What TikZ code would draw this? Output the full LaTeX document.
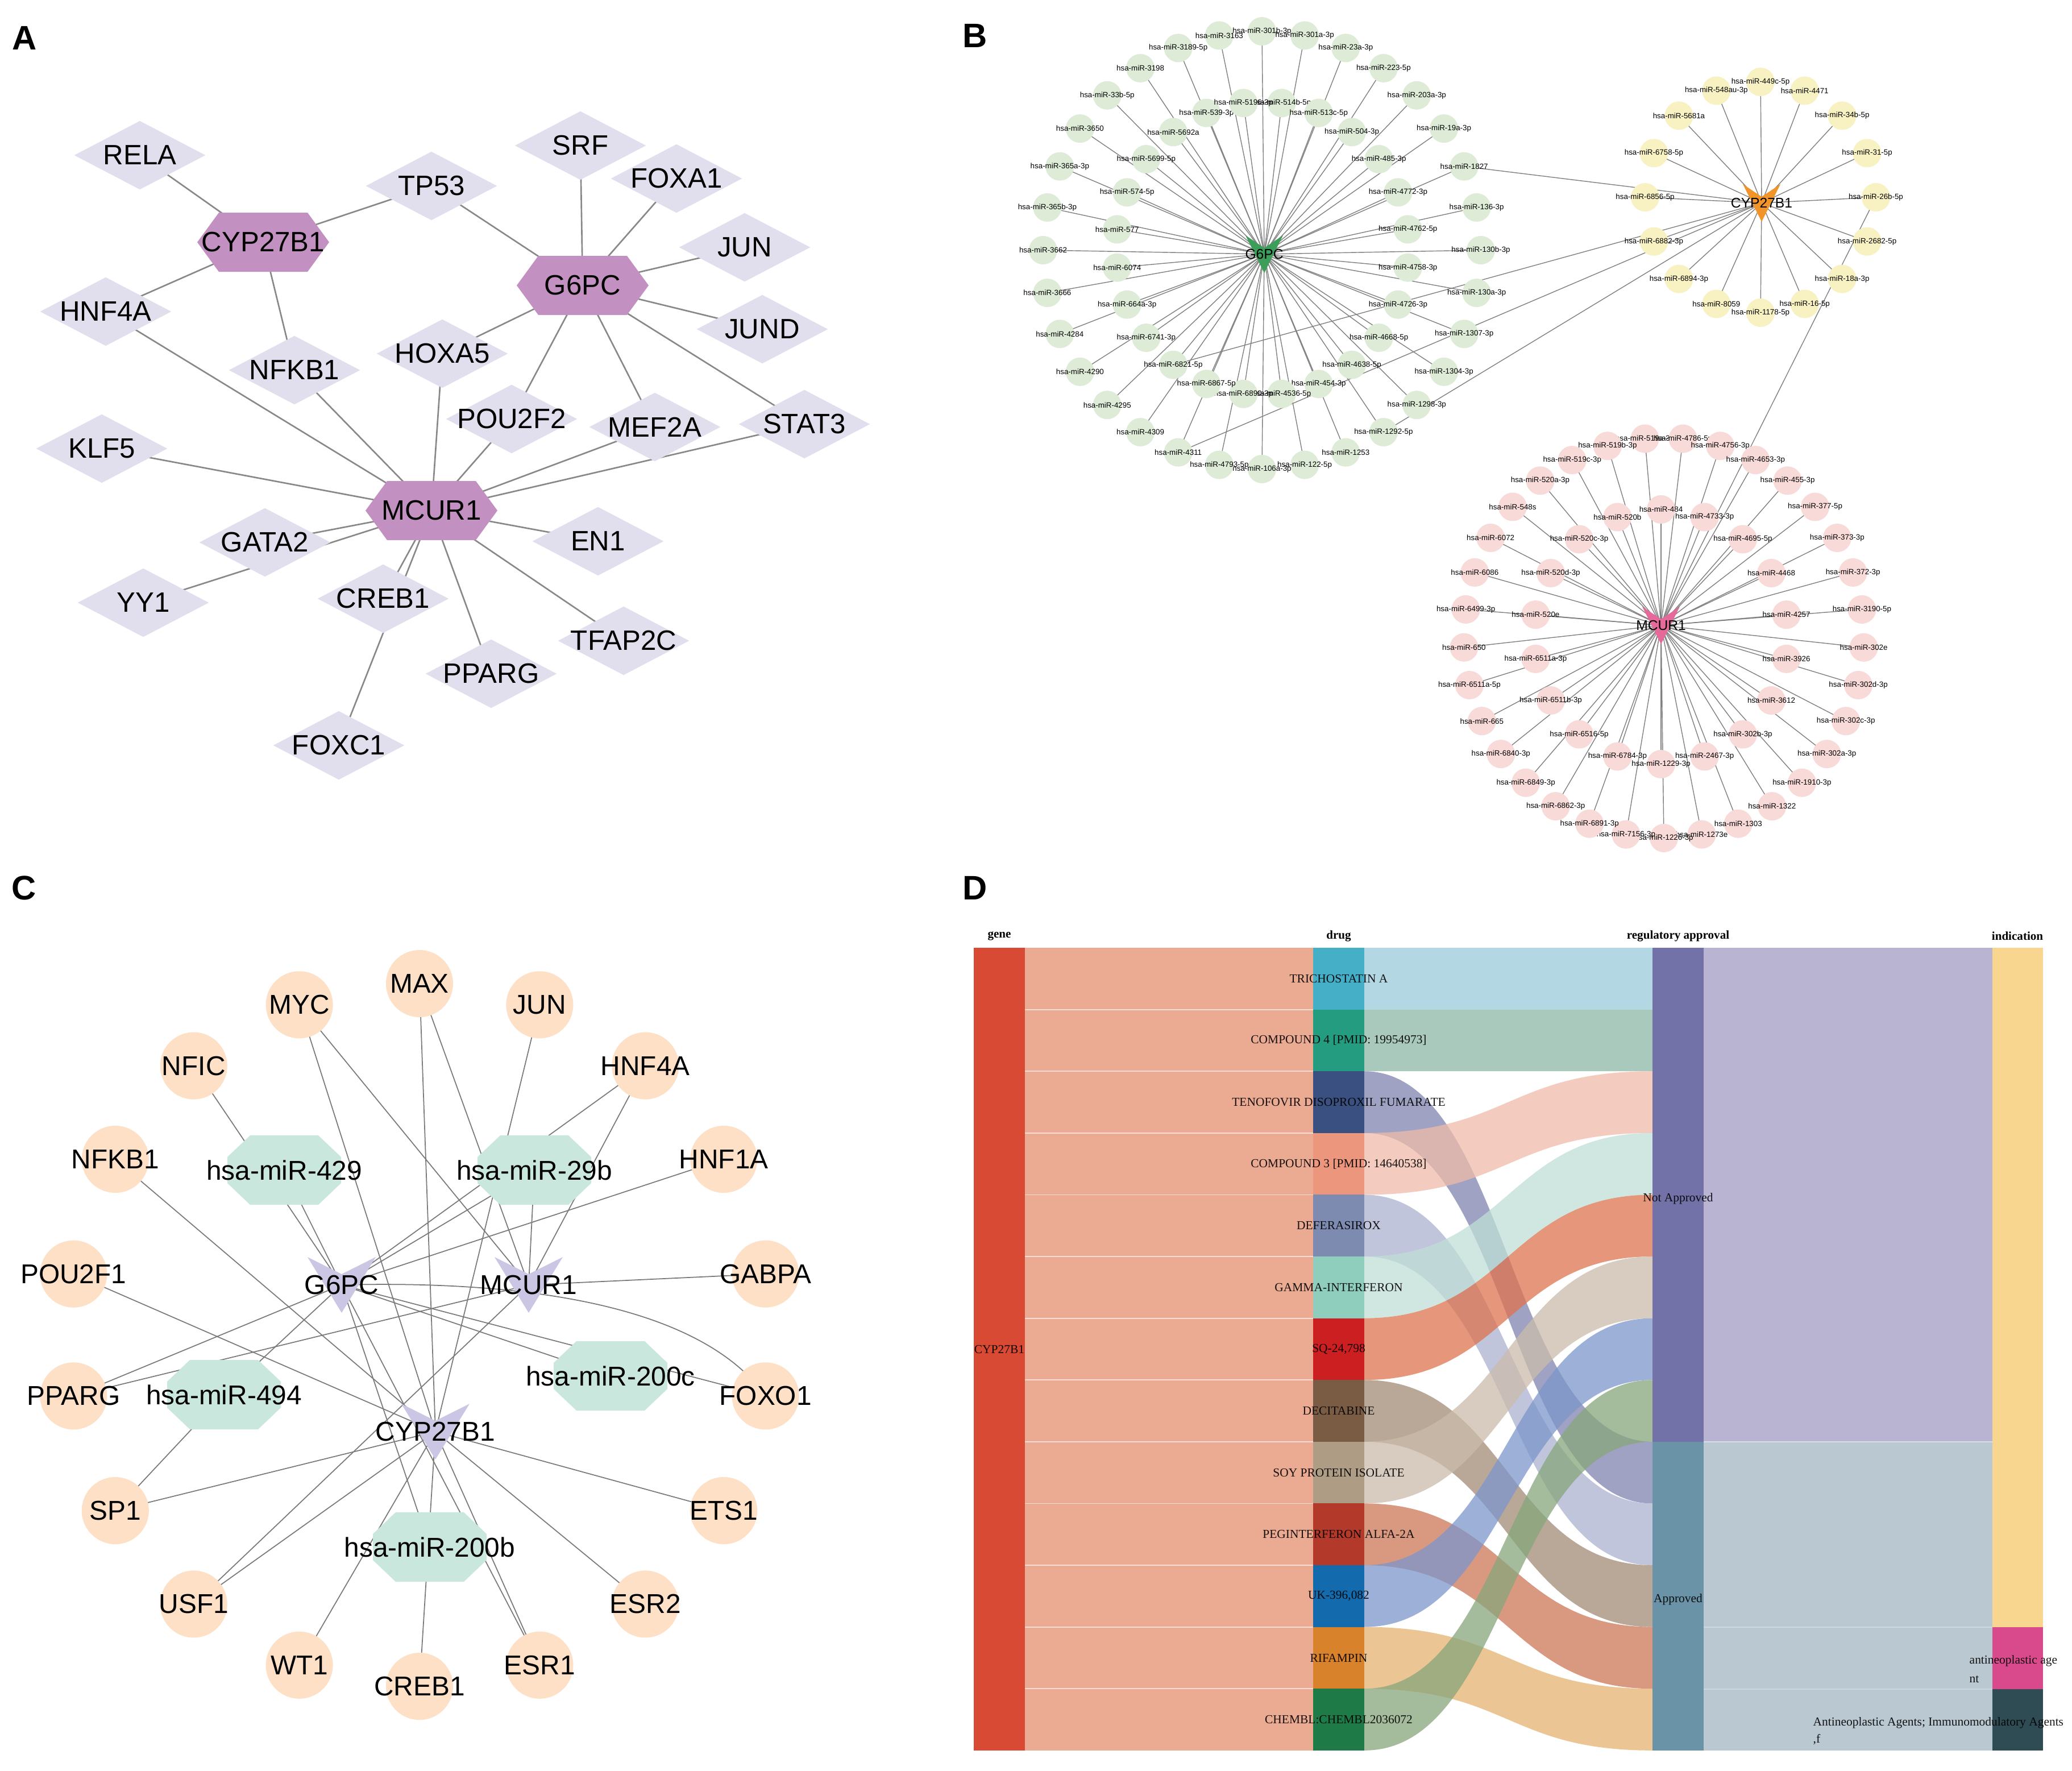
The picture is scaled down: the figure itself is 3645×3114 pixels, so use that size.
\documentclass[tikz,border=0pt]{standalone}
\usepackage{fontspec}
\setmainfont{Liberation Sans}
\newfontfamily\tnr{Liberation Serif}
\usetikzlibrary{shapes.geometric}
\pgfdeclarelayer{bg}
\pgfsetlayers{bg,main}
\definecolor{diaA}{HTML}{E1DEEE}
\definecolor{hexA}{HTML}{C391C1}
\definecolor{edgeg}{HTML}{888888}
\definecolor{gcir}{HTML}{DDEBD7}
\definecolor{ycir}{HTML}{F8F1C1}
\definecolor{pcir}{HTML}{F8DAD8}
\definecolor{ghub}{HTML}{3C9E58}
\definecolor{ohub}{HTML}{F1952B}
\definecolor{phub}{HTML}{E56A9B}
\definecolor{peach}{HTML}{FDE0C6}
\definecolor{mint}{HTML}{C9E7DD}
\definecolor{lavC}{HTML}{CAC6E3}
\definecolor{genec}{HTML}{D84A33}
\definecolor{genef}{HTML}{EBAB92}
\definecolor{d0}{HTML}{45AFC8}
\definecolor{d1}{HTML}{239C80}
\definecolor{d2}{HTML}{3A5080}
\definecolor{d3}{HTML}{EC977D}
\definecolor{d4}{HTML}{7E8BB0}
\definecolor{d5}{HTML}{8FCDBD}
\definecolor{d6}{HTML}{CC1F22}
\definecolor{d7}{HTML}{7A5C45}
\definecolor{d8}{HTML}{AE9C85}
\definecolor{d9}{HTML}{B33A2B}
\definecolor{d10}{HTML}{136BAD}
\definecolor{d11}{HTML}{D9822C}
\definecolor{d12}{HTML}{1E7B48}
\definecolor{f0}{HTML}{9CCCDA}
\definecolor{f1}{HTML}{8BB7A6}
\definecolor{f2}{HTML}{8083B0}
\definecolor{f3}{HTML}{EFBCAA}
\definecolor{f4}{HTML}{ACB2CF}
\definecolor{f5}{HTML}{BFDFD6}
\definecolor{f6}{HTML}{DE734E}
\definecolor{f7}{HTML}{A28B76}
\definecolor{f8}{HTML}{CBBCAC}
\definecolor{f9}{HTML}{CC7856}
\definecolor{f10}{HTML}{7C96CB}
\definecolor{f11}{HTML}{E6B271}
\definecolor{f12}{HTML}{87A67B}
\definecolor{napp}{HTML}{7272A8}
\definecolor{app}{HTML}{6A93A7}
\definecolor{nappf}{HTML}{B8B4D2}
\definecolor{appf}{HTML}{BAC8D1}
\definecolor{indy}{HTML}{F8D68F}
\definecolor{indp}{HTML}{D94A8C}
\definecolor{indd}{HTML}{2F4B53}
\newcommand\hexnode[3]{%
  \fill[hexA] ([shift={(-116,0)}]#2) -- ([shift={(-78,-52)}]#2) -- ([shift={(78,-52)}]#2) -- ([shift={(116,0)}]#2) -- ([shift={(78,52)}]#2) -- ([shift={(-78,52)}]#2) -- cycle;
  \node[labA] (#1) at (#2) {#3};}
\newcommand\dianode[3]{\node[dia] (#1) at (#2) {}; \node[labA] at (#2) {#3};}
\newcommand\chevB[4]{%
  \fill[#3] ([shift={(-33,-33)}]#2) -- ([shift={(0,-11)}]#2) -- ([shift={(33,-33)}]#2) -- ([shift={(0,33)}]#2) -- cycle;
  \node[hubB] (#1) at (#2) {#4};}
\newcommand\chevC[3]{%
  \fill[lavC] ([shift={(-60,-49)}]#2) -- ([shift={(0,-19)}]#2) -- ([shift={(60,-49)}]#2) -- ([shift={(0,49)}]#2) -- cycle;
  \node[labC] (#1) at (#2) {#3};}
\newcommand\octnode[3]{%
  \fill[mint] ([shift={(-100,-23)}]#2) -- ([shift={(-60,-61)}]#2) -- ([shift={(60,-61)}]#2) -- ([shift={(100,-23)}]#2) -- ([shift={(100,23)}]#2) -- ([shift={(60,61)}]#2) -- ([shift={(-60,61)}]#2) -- ([shift={(-100,23)}]#2) -- cycle;
  \node[labC] (#1) at (#2) {#3};}
\begin{document}
\begin{tikzpicture}[x=0.01cm,y=-0.01cm,
  panel/.style={font=\fontsize{17}{19}\selectfont\bfseries, inner sep=0pt},
  labA/.style={font=\fontsize{14}{16}\selectfont, inner sep=0pt},
  dia/.style={diamond, fill=diaA, inner sep=0pt, minimum width=2.31cm, minimum height=1.21cm},
  edgeA/.style={draw=edgeg, line width=0.75pt},
  edgeB/.style={draw=edgeg!95!black, line width=0.4pt},
  edgeC/.style={draw=edgeg!90!black, line width=0.5pt},
  mirlab/.style={font=\fontsize{3.8}{4}\selectfont, inner sep=0pt},
  hubB/.style={font=\fontsize{7}{7.5}\selectfont, inner sep=0pt},
  gcirc/.style={circle, fill=gcir, minimum size=0.5cm, inner sep=0pt},
  ycirc/.style={circle, fill=ycir, minimum size=0.5cm, inner sep=0pt},
  pcirc/.style={circle, fill=pcir, minimum size=0.5cm, inner sep=0pt},
  labC/.style={font=\fontsize{13.6}{15}\selectfont, inner sep=0pt},
  ccirc/.style={circle, fill=peach, minimum size=1.18cm, inner sep=0pt},
  dlab/.style={font=\tnr\fontsize{6.1}{6.6}\selectfont, inner sep=0pt, text opacity=0.9},
  dhead/.style={font=\tnr\bfseries\fontsize{6}{6.5}\selectfont, inner sep=0pt}]
\begin{pgfonlayer}{bg}
\fill[white] (0,0) rectangle (3645,3114);
\end{pgfonlayer}
\useasboundingbox (0,0) rectangle (3645,3114);

% ================= Panel labels
\node[panel] (pA) at (43,67) {A};
\node[panel] (pB) at (1715,63) {B};
\node[panel] (pC) at (42,1562) {C};
\node[panel] (pD) at (1715,1562) {D};

% ================= Panel A
\dianode{RELA}{246,273}{RELA}
\dianode{TP53}{759,327}{TP53}
\dianode{SRF}{1021,256}{SRF}
\dianode{FOXA1}{1190,314}{FOXA1}
\dianode{JUN}{1310,435}{JUN}
\dianode{JUND}{1341,579}{JUND}
\dianode{HNF4A}{186,548}{HNF4A}
\dianode{NFKB1}{518,651}{NFKB1}
\dianode{HOXA5}{778,622}{HOXA5}
\dianode{POU2F2}{900,737}{POU2F2}
\dianode{MEF2A}{1152,751}{MEF2A}
\dianode{STAT3}{1415,746}{STAT3}
\dianode{KLF5}{179,789}{KLF5}
\dianode{GATA2}{466,954}{GATA2}
\dianode{EN1}{1052,952}{EN1}
\dianode{YY1}{252,1060}{YY1}
\dianode{CREB1}{674,1053}{CREB1}
\dianode{TFAP2C}{1097,1127}{TFAP2C}
\dianode{PPARG}{864,1185}{PPARG}
\dianode{FOXC1}{596,1311}{FOXC1}
\hexnode{aCYP}{463,426}{CYP27B1}
\hexnode{aG6}{1025,502}{G6PC}
\hexnode{aMC}{759,898}{MCUR1}
\begin{pgfonlayer}{bg}
\foreach \a/\b in {aCYP/RELA,aCYP/TP53,aG6/TP53,aCYP/HNF4A,aCYP/NFKB1,aG6/SRF,aG6/FOXA1,aG6/JUN,aG6/JUND,aG6/HOXA5,aG6/POU2F2,aG6/MEF2A,aG6/STAT3,aMC/HNF4A,aMC/NFKB1,aMC/HOXA5,aMC/POU2F2,aMC/MEF2A,aMC/STAT3,aMC/KLF5,aMC/GATA2,aMC/YY1,aMC/EN1,aMC/CREB1,aMC/FOXC1,aMC/PPARG,aMC/TFAP2C}
  \draw[edgeA] (\a.center) -- (\b.center);
\end{pgfonlayer}

% ================= Panel B
\chevB{bG6}{2224,447}{ghub}{G6PC}
\chevB{bCYP}{3099,357}{ohub}{CYP27B1}
\chevB{bMC}{2922,1100}{phub}{MCUR1}
% G6PC outer ring
\foreach \t [count=\i from 0] in {301b-3p,301a-3p,23a-3p,223-5p,203a-3p,19a-3p,1827,136-3p,130b-3p,130a-3p,1307-3p,1304-3p,1298-3p,1292-5p,1253,122-5p,106a-3p,4793-5p,4311,4309,4295,4290,4284,3666,3662,365b-3p,365a-3p,3650,33b-5p,3198,3189-5p,3163} {
  \pgfmathsetmacro\ang{11.25*\i-90}
  \node[gcirc] (go\i) at ([shift={(\ang:385)}]2220,440) {};
  \node[mirlab] at (go\i.center) {hsa-miR-\t};
  \begin{pgfonlayer}{bg}\draw[edgeB] (go\i.center) -- (bG6.center);\end{pgfonlayer}
}
% G6PC inner ring
\foreach \t [count=\i from 0] in {514b-5p,513c-5p,504-3p,485-3p,4772-3p,4762-5p,4758-3p,4726-3p,4668-5p,4638-5p,454-3p,4536-5p,6890-3p,6867-5p,6821-5p,6741-3p,664a-3p,6074,577,574-5p,5699-5p,5692a,539-3p,5196-3p} {
  \pgfmathsetmacro\ang{15*\i-82.5}
  \node[gcirc] (gi\i) at ([shift={(\ang:258)}]2221,437) {};
  \node[mirlab] at (gi\i.center) {hsa-miR-\t};
  \begin{pgfonlayer}{bg}\draw[edgeB] (gi\i.center) -- (bG6.center);\end{pgfonlayer}
}
% CYP27B1 ring
\foreach \t [count=\i from 0] in {449c-5p,4471,34b-5p,31-5p,26b-5p,2682-5p,18a-3p,16-5p,1178-5p,8059,6894-3p,6882-3p,6856-5p,6758-5p,5681a,548au-3p} {
  \pgfmathsetmacro\ang{22.5*\i-90}
  \node[ycirc] (yo\i) at ([shift={(\ang:203)}]3097,347) {};
  \node[mirlab] at (yo\i.center) {hsa-miR-\t};
  \begin{pgfonlayer}{bg}\draw[edgeB] (yo\i.center) -- (bCYP.center);\end{pgfonlayer}
}
% MCUR1 outer ring
\foreach \t [count=\i from 0] in {519a-3p,4786-5p,4756-3p,4653-3p,455-3p,377-5p,373-3p,372-3p,3190-5p,302e,302d-3p,302c-3p,302a-3p,1910-3p,1322,1303,1273e,1226-3p,7156-3p,6891-3p,6862-3p,6849-3p,6840-3p,665,6511a-5p,650,6499-3p,6086,6072,548s,520a-3p,519c-3p,519b-3p} {
  \pgfmathsetmacro\ang{10.909*\i-95.45}
  \node[pcirc] (po\i) at ([shift={(\ang:352)}]2927,1122) {};
  \node[mirlab] at (po\i.center) {hsa-miR-\t};
  \begin{pgfonlayer}{bg}\draw[edgeB] (po\i.center) -- (bMC.center);\end{pgfonlayer}
}
% MCUR1 inner ring
\foreach \t [count=\i from 0] in {484,4733-3p,4695-5p,4468,4257,3926,3612,302b-3p,2467-3p,1229-3p,6784-3p,6516-5p,6511b-3p,6511a-3p,520e,520d-3p,520c-3p,520b} {
  \pgfmathsetmacro\ang{20*\i-90}
  \node[pcirc] (pi\i) at ([shift={(\ang:224)}]2922,1120) {};
  \node[mirlab] at (pi\i.center) {hsa-miR-\t};
  \begin{pgfonlayer}{bg}\draw[edgeB] (pi\i.center) -- (bMC.center);\end{pgfonlayer}
}
\begin{pgfonlayer}{bg}
\draw[edgeB] (go6.center) -- (bCYP.center);
\draw[edgeB] (gi14.center) -- (bCYP.center);
\draw[edgeB] (go18.center) -- (bCYP.center);
\draw[edgeB] (go13.center) -- (bCYP.center);
\draw[edgeB] (yo4.center) -- (bMC.center);
\end{pgfonlayer}

% ================= Panel C
\foreach \n [count=\i from 0] in {MAX,JUN,HNF4A,HNF1A,GABPA,FOXO1,ETS1,ESR2,ESR1,CREB1,WT1,USF1,SP1,PPARG,POU2F1,NFKB1,NFIC,MYC} {
  \pgfmathsetmacro\ang{20*\i-90}
  \node[ccirc] (c\n) at ([shift={(\ang:618)}]738,2348) {};
  \node[labC] at (c\n.center) {\n};
}
\octnode{m429}{500,2058}{hsa-miR-429}
\octnode{m29b}{940,2058}{hsa-miR-29b}
\octnode{m494}{394,2453}{hsa-miR-494}
\octnode{m200c}{1074,2420}{hsa-miR-200c}
\octnode{m200b}{756,2721}{hsa-miR-200b}
\chevC{cG6}{601,2260}{G6PC}
\chevC{cMC}{930,2260}{MCUR1}
\chevC{cCYP}{766,2518}{CYP27B1}
\begin{pgfonlayer}{bg}
\foreach \a/\b in {cMYC/cMC,cMYC/cCYP,cMAX/cCYP,cMAX/cMC,cJUN/cCYP,cNFIC/cG6,cHNF4A/cG6,cHNF4A/cMC,cHNF1A/cG6,cNFKB1/cCYP,cPOU2F1/cCYP,cGABPA/cMC,cPPARG/cG6,cPPARG/cMC,cFOXO1/cG6,cSP1/m494,cSP1/cCYP,cETS1/cCYP,cESR2/cCYP,cESR1/cCYP,cESR1/cG6,cUSF1/cCYP,cUSF1/cMC,cWT1/cCYP,cCREB1/cCYP,m429/cG6,m29b/cG6,m29b/cMC,m494/cG6,m200c/cG6,m200b/cG6}
  \draw[edgeC] (\a.center) -- (\b.center);
\draw[edgeC] (cG6.center) .. controls (1000,2250) and (1250,2320) .. (cFOXO1.center);
\end{pgfonlayer}

% ================= Panel D
% gene -> drug flows
\fill[genef] (1803,1667) rectangle (2310,3079);
\foreach \k in {1,...,12} {
  \pgfmathsetmacro\yy{1667+108.6*\k}
  \draw[white, line width=0.5pt, opacity=0.6] (1803,\yy) -- (2310,\yy);
}
% reg -> indication flows
\fill[nappf] (2997,1667) rectangle (3505,2536);
\fill[appf] (2997,2536) rectangle (3505,3079);
\draw[white, line width=0.5pt, opacity=0.5] (2997,2536) -- (3505,2536);
\draw[white, line width=0.4pt, opacity=0.3] (2997,2862) -- (3505,2862);
\draw[white, line width=0.4pt, opacity=0.3] (2997,2971) -- (3505,2971);
% drug -> reg flows
\foreach \k/\t/\c in {0/0/f0,1/1/f1,2/8/f2,3/2/f3,4/9/f4,5/3/f5,6/4/f6,7/10/f7,8/5/f8,9/11/f9,10/6/f10,11/12/f11,12/7/f12} {
  \pgfmathsetmacro\ya{1667+108.6*\k}
  \pgfmathsetmacro\yb{1667+108.6*(\k+1)}
  \pgfmathsetmacro\ta{1667+108.6*\t}
  \pgfmathsetmacro\tb{1667+108.6*(\t+1)}
  \fill[\c, fill opacity=0.75] (2400,\ya) .. controls (2653,\ya) and (2653,\ta) .. (2907,\ta) -- (2907,\tb) .. controls (2653,\tb) and (2653,\yb) .. (2400,\yb) -- cycle;
}
% bars
\fill[genec] (1713,1667) rectangle (1803,3079);
\foreach \k/\c in {0/d0,1/d1,2/d2,3/d3,4/d4,5/d5,6/d6,7/d7,8/d8,9/d9,10/d10,11/d11,12/d12} {
  \pgfmathsetmacro\ya{1667+108.6*\k}
  \pgfmathsetmacro\yb{1667+108.6*(\k+1)}
  \fill[\c] (2310,\ya) rectangle (2400,\yb);
}
\fill[napp] (2907,1667) rectangle (2997,2536);
\fill[app] (2907,2536) rectangle (2997,3079);
\fill[indy] (3505,1667) rectangle (3594,2862);
\fill[indp] (3505,2862) rectangle (3594,2971);
\fill[indd] (3505,2971) rectangle (3594,3079);
% labels
\node[dhead] (hg) at (1758,1646) {gene};
\node[dhead] (hd) at (2355,1646) {drug};
\node[dhead] (hr) at (2952,1646) {regulatory approval};
\node[dhead] (hi) at (3549,1646) {indication};
\node[dlab] (lg) at (1758,2373) {CYP27B1};
\foreach \k/\lab in {0/TRICHOSTATIN A,1/{COMPOUND 4 [PMID: 19954973]},2/TENOFOVIR DISOPROXIL FUMARATE,3/{COMPOUND 3 [PMID: 14640538]},4/DEFERASIROX,5/GAMMA-INTERFERON,6/{SQ-24,798},7/DECITABINE,8/SOY PROTEIN ISOLATE,9/PEGINTERFERON ALFA-2A,10/{UK-396,082},11/RIFAMPIN,12/{CHEMBL:CHEMBL2036072}} {
  \pgfmathsetmacro\ym{1667+108.6*(\k+0.5)}
  \node[dlab] at (2355,\ym) {\lab};
}
\node[dlab] (lna) at (2952,2108) {Not Approved};
\node[dlab] (lap) at (2952,2813) {Approved};
\node[dlab, anchor=west] (li1) at (3464,2921) {antineoplastic age};
\node[dlab, anchor=west] (li1b) at (3464,2954) {nt};
\node[dlab, anchor=west] (li2) at (3189,3030) {Antineoplastic Agents; Immunomodulatory Agents};
\node[dlab, anchor=west] (li2b) at (3189,3060) {,f};
\end{tikzpicture}
\end{document}
